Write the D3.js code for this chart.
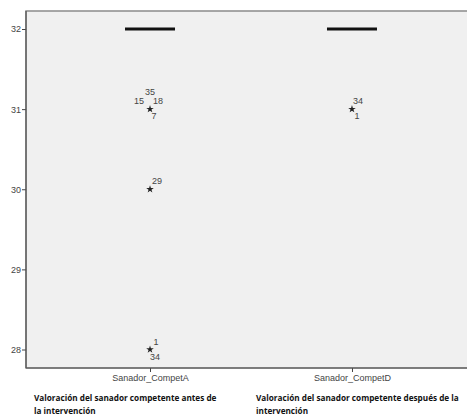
<!DOCTYPE html>
<html>
<head>
<meta charset="utf-8">
<script src="https://cdn.jsdelivr.net/npm/d3@7/dist/d3.min.js"></script>
<style>
  body { margin: 0; background: #fff; }
  text { font-family: Arial, "Liberation Sans", sans-serif; }
</style>
</head>
<body>
<div id="chart"></div>
<script>
var categories = ["Sanador_CompetA", "Sanador_CompetD"];
var descriptions = [
    ["Valoración del sanador competente antes de", "la intervención"],
    ["Valoración del sanador competente después de la", "intervención"]
];
var medians = [32, 32];
var outlierValues = [[31, 30, 28], [31]];
var outlierIds = [[[35, 15, 18, 7], [29], [1, 34]], [[34, 1]]];
var yTicks = [28, 29, 30, 31, 32];

var W = 467, H = 417;
var plot = {left: 26, top: 11, right: 476, bottom: 368};

// label placement around a star, by number of cases at that point
var labelSpots = {
    1: [[7, -8]],
    2: [[6, -8], [5, 7]],
    4: [[0, -17], [-11, -8], [8, -8], [4, 7]]
};

var svg = d3.select("#chart").append("svg")
    .attr("width", W).attr("height", H);

var x = d3.scalePoint()
    .domain(categories)
    .range([plot.left, plot.right])
    .padding(0.614);

var y = d3.scaleLinear()
    .domain([28, 32])
    .range([349.5, 29]);

svg.append("rect")
    .attr("x", plot.left).attr("y", plot.top)
    .attr("width", plot.right - plot.left)
    .attr("height", plot.bottom - plot.top)
    .attr("fill", "#f0f0f0")
    .attr("stroke", "#8a8a8a")
    .attr("stroke-width", 1.5);

// y axis
var yAxis = svg.append("g")
    .attr("transform", "translate(" + plot.left + ",0)")
    .call(d3.axisLeft(y).tickValues(yTicks).tickSize(4).tickFormat(d3.format("d")));
yAxis.select(".domain").remove();
yAxis.selectAll("line").attr("stroke", "#444");
yAxis.selectAll("text").attr("font-size", 9).attr("fill", "#444").attr("x", -5);
svg.append("line")
    .attr("x1", plot.left).attr("x2", plot.left)
    .attr("y1", plot.top).attr("y2", plot.bottom)
    .attr("stroke", "#555").attr("stroke-width", 1.2);

// x axis
var xAxis = svg.append("g")
    .attr("transform", "translate(0," + plot.bottom + ")")
    .call(d3.axisBottom(x).tickSize(4).tickPadding(3));
xAxis.select(".domain").remove();
xAxis.selectAll("line").attr("stroke", "#444");
xAxis.selectAll("text").attr("font-size", 9).attr("fill", "#444");
svg.append("line")
    .attr("x1", plot.left).attr("x2", W)
    .attr("y1", plot.bottom).attr("y2", plot.bottom)
    .attr("stroke", "#555").attr("stroke-width", 1.2);

// medians (degenerate boxes)
svg.selectAll(".median")
    .data(categories)
    .enter().append("line")
    .attr("class", "median")
    .attr("x1", function(d) { return x(d) - 25; })
    .attr("x2", function(d) { return x(d) + 25; })
    .attr("y1", function(d, i) { return y(medians[i]); })
    .attr("y2", function(d, i) { return y(medians[i]); })
    .attr("stroke", "#111")
    .attr("stroke-width", 3);

// extreme values
var pts = [];
categories.forEach(function(c, i) {
    outlierValues[i].forEach(function(v, j) {
        pts.push({cat: c, value: v, ids: outlierIds[i][j]});
    });
});

var star = d3.symbol().type(d3.symbolStar).size(18);
var g = svg.selectAll(".out")
    .data(pts)
    .enter().append("g")
    .attr("transform", function(d) { return "translate(" + x(d.cat) + "," + y(d.value) + ")"; });
g.append("path").attr("d", star).attr("fill", "#222");
g.each(function(d) {
    var spots = labelSpots[d.ids.length];
    d3.select(this).selectAll("text")
        .data(d.ids)
        .enter().append("text")
        .attr("x", function(id, k) { return spots[k][0]; })
        .attr("y", function(id, k) { return spots[k][1]; })
        .attr("dy", "0.35em")
        .attr("text-anchor", "middle")
        .attr("font-size", 9)
        .attr("fill", "#444")
        .text(function(id) { return id; });
});

// variable descriptions
var desc = svg.selectAll(".desc")
    .data(descriptions)
    .enter().append("text")
    .attr("class", "desc")
    .attr("x", function(d, i) { return i === 0 ? 34 : 256; })
    .attr("y", 401)
    .attr("font-size", 8.2)
    .attr("font-weight", "bold")
    .attr("fill", "#111")
    .style("font-family", "'Open Sans', sans-serif");
desc.selectAll("tspan")
    .data(function(d) { return d; })
    .enter().append("tspan")
    .attr("x", function() { return d3.select(this.parentNode).attr("x"); })
    .attr("dy", function(d, k) { return k === 0 ? 0 : 13; })
    .text(function(d) { return d; });
</script>
</body>
</html>
